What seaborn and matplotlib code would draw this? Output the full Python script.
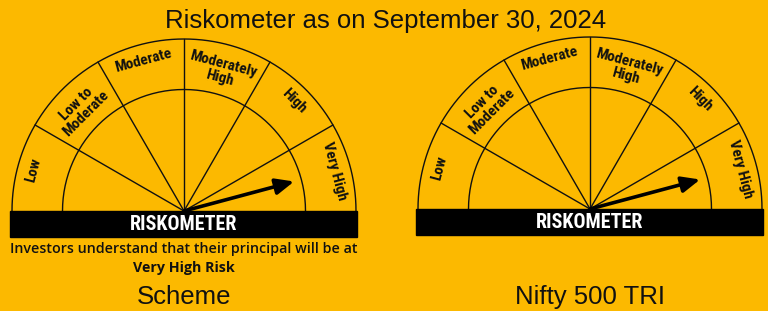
import numpy as np
import pandas as pd
import matplotlib
matplotlib.use("Agg")
import matplotlib.pyplot as plt
import seaborn as sns

# data
title = "Riskometer as on September 30, 2024"
risk_levels = ["Low", "Low to\nModerate", "Moderate", "Moderately\nHigh", "High", "Very High"]
panel_names = ["Scheme", "Nifty 500 TRI"]
panel_risk = ["Very High", "Very High"]
scheme_note = ["Investors understand that their principal will be at", "Very High Risk"]

BG = "#FCB900"
sns.set_theme(style="white")
plt.rcParams["font.family"] = ["Liberation Sans", "DejaVu Sans"]

fig = plt.figure(figsize=(7.68, 3.11), dpi=100, facecolor=BG)
ax = fig.add_axes([0, 0, 1, 1])
ax.set_facecolor(BG)
ax.set_xlim(0, 768)
ax.set_ylim(311, 0)
ax.axis("off")

centers = [(184, 211), (590, 209)]
R_OUT, R_IN = 172, 121.5
n = len(risk_levels)
seg = 180 / n
narrow = ["Roboto Condensed", "DejaVu Sans Condensed", "Liberation Sans Narrow", "DejaVu Sans"]

rows = []
for p, (cx, cy) in enumerate(centers):
    # spokes between segments
    for k in range(1, n):
        a = np.radians(k * seg)
        rows.append(dict(x=cx, y=cy, unit=f"{p}s{k}", o=0))
        rows.append(dict(x=cx + R_OUT * np.cos(a), y=cy - R_OUT * np.sin(a), unit=f"{p}s{k}", o=1))
    # arcs
    for name, r in [("out", R_OUT), ("in", R_IN)]:
        for i, a in enumerate(np.linspace(0, np.pi, 181)):
            rows.append(dict(x=cx + r * np.cos(a), y=cy - r * np.sin(a), unit=f"{p}{name}", o=i))
lines = pd.DataFrame(rows)
sns.lineplot(data=lines, x="x", y="y", units="unit", estimator=None, sort=False,
             color="#111111", lw=1.0, legend=False, ax=ax)
ax.set_xlabel("")
ax.set_ylabel("")

for p, (cx, cy) in enumerate(centers):
    # black bar
    ax.add_patch(plt.Rectangle((cx - 174, cy), 347, 26, color="black", zorder=3))
    ax.text(cx, cy + 14, "RISKOMETER", color="white", fontsize=14.5, fontweight="heavy",
            family=narrow, fontstretch="condensed", ha="center", va="center", zorder=4)
    # segment labels (segment 0 on the left)
    for k, lab in enumerate(risk_levels):
        mid = 180 - (k + 0.5) * seg
        r = 145 if "\n" in lab else 156
        a = np.radians(mid)
        ax.text(cx + r * np.cos(a), cy - r * np.sin(a), lab, rotation=mid - 90,
                rotation_mode="anchor", ha="center", va="center", fontsize=11,
                fontweight="heavy", family=narrow, fontstretch="condensed",
                linespacing=0.95, color="#111111")
    # needle
    idx = [l.replace("\n", " ") for l in risk_levels].index(panel_risk[p])
    a = np.radians(180 - (idx + 0.5) * seg)
    L = 114
    ax.annotate("", xy=(cx + L * np.cos(a), cy - L * np.sin(a)), xytext=(cx, cy),
                arrowprops=dict(arrowstyle="-|>,head_length=0.55,head_width=0.24",
                                mutation_scale=20, lw=2.6, color="black",
                                shrinkA=0, shrinkB=0), zorder=5)
    ax.text(cx, 304, panel_names[p], fontsize=18.5, ha="center", va="baseline", color="#111111")

ax.text(386, 28, title, fontsize=18.5, ha="center", va="baseline", color="#111111")
ax.text(centers[0][0], 253, scheme_note[0], fontsize=10.3, fontweight=600,
        family=["Open Sans", "Noto Sans", "DejaVu Sans"], ha="center", va="baseline", color="#111111")
ax.text(centers[0][0], 272, scheme_note[1], fontsize=10.3, fontweight="bold",
        family=["Open Sans", "Noto Sans", "DejaVu Sans"], ha="center", va="baseline", color="#111111")

fig.savefig("out.png", dpi=100, facecolor=BG)
